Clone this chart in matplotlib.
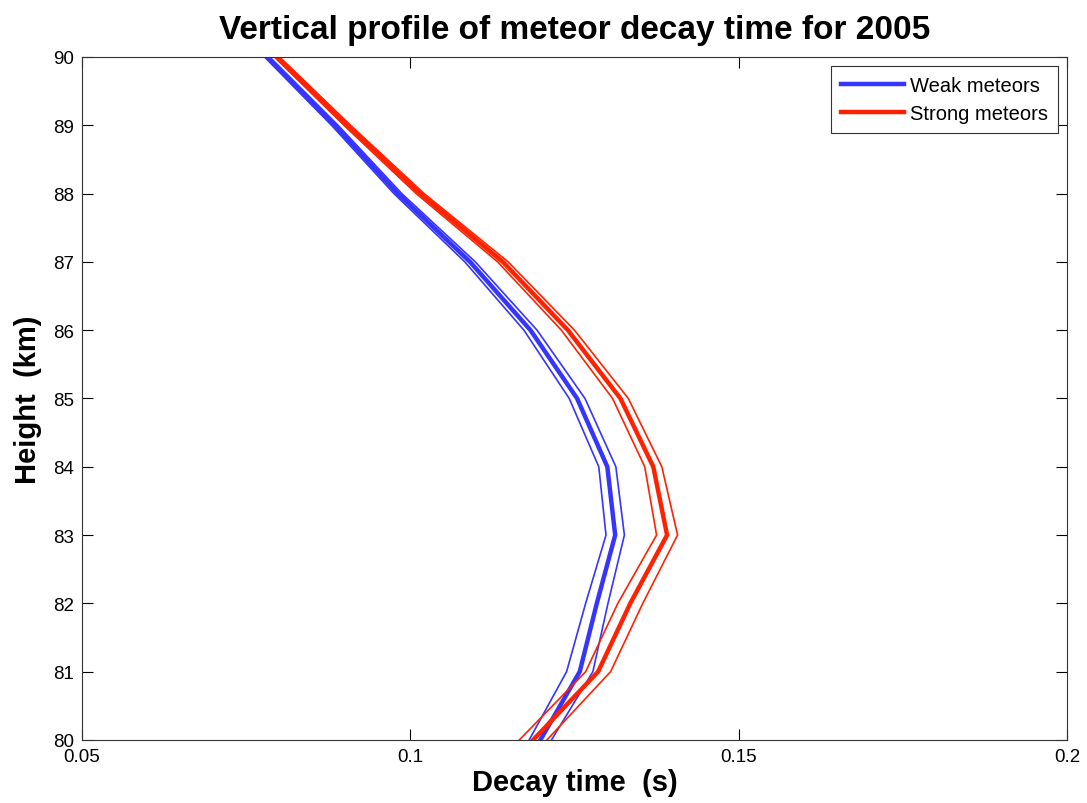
import numpy as np
import matplotlib.pyplot as plt

plt.rcParams['font.family'] = ['Liberation Sans', 'DejaVu Sans']

# Height levels (km) and mean decay times (s) with their error half-widths
height = [90, 89, 88, 87, 86, 85, 84, 83, 82, 81, 80]

weak_mean = [0.0782, 0.0885, 0.0981, 0.1091, 0.1183, 0.1254, 0.1300, 0.1312, 0.1284, 0.1258, 0.1198]
weak_err = [0.0004, 0.0005, 0.0006, 0.0008, 0.0010, 0.0012, 0.0013, 0.0014, 0.0017, 0.0020, 0.0017]

strong_mean = [0.0797, 0.0904, 0.1015, 0.1141, 0.1240, 0.1320, 0.1370, 0.1391, 0.1335, 0.1286, 0.1187]
strong_err = [0.0004, 0.0005, 0.0006, 0.0008, 0.0010, 0.0012, 0.0013, 0.0016, 0.0019, 0.0019, 0.0021]

blue = '#3535ff'
red = '#ff2200'

fig = plt.figure(figsize=(10.87, 8.04), dpi=100)
ax = fig.add_axes([0.0754, 0.0784, 0.9062, 0.8495])

h = np.array(height)
for mean, err, col, lab in [(weak_mean, weak_err, blue, 'Weak meteors'),
                            (strong_mean, strong_err, red, 'Strong meteors')]:
    m = np.array(mean)
    e = np.array(err)
    ax.plot(m, h, color=col, lw=3.2, label=lab)
    ax.plot(m - e, h, color=col, lw=1.2)
    ax.plot(m + e, h, color=col, lw=1.2)

ax.set_xlim(0.05, 0.2)
ax.set_ylim(80, 90)
ax.set_xticks([0.05, 0.1, 0.15, 0.2])
ax.set_xticklabels(['0.05', '0.1', '0.15', '0.2'])
ax.set_yticks(range(80, 91))
ax.tick_params(direction='in', top=True, right=True, length=8, width=0.8,
               labelsize=13.5, pad=6)
for s in ax.spines.values():
    s.set_linewidth(0.8)
    s.set_color('#333333')

ax.set_title('Vertical profile of meteor decay time for 2005',
             fontsize=24, fontweight='bold', pad=14)
ax.set_xlabel('Decay time  (s)', fontsize=21, fontweight='bold', labelpad=2)
ax.set_ylabel('Height  (km)', fontsize=21, fontweight='bold', labelpad=8)

leg = ax.legend(loc='upper right', fontsize=14.5, fancybox=False, framealpha=1,
                edgecolor='#333333', borderaxespad=0.45, handlelength=3.1,
                handletextpad=0.3, borderpad=0.5, labelspacing=0.45)
leg.get_frame().set_linewidth(0.8)

fig.savefig('out.png', dpi=100)
